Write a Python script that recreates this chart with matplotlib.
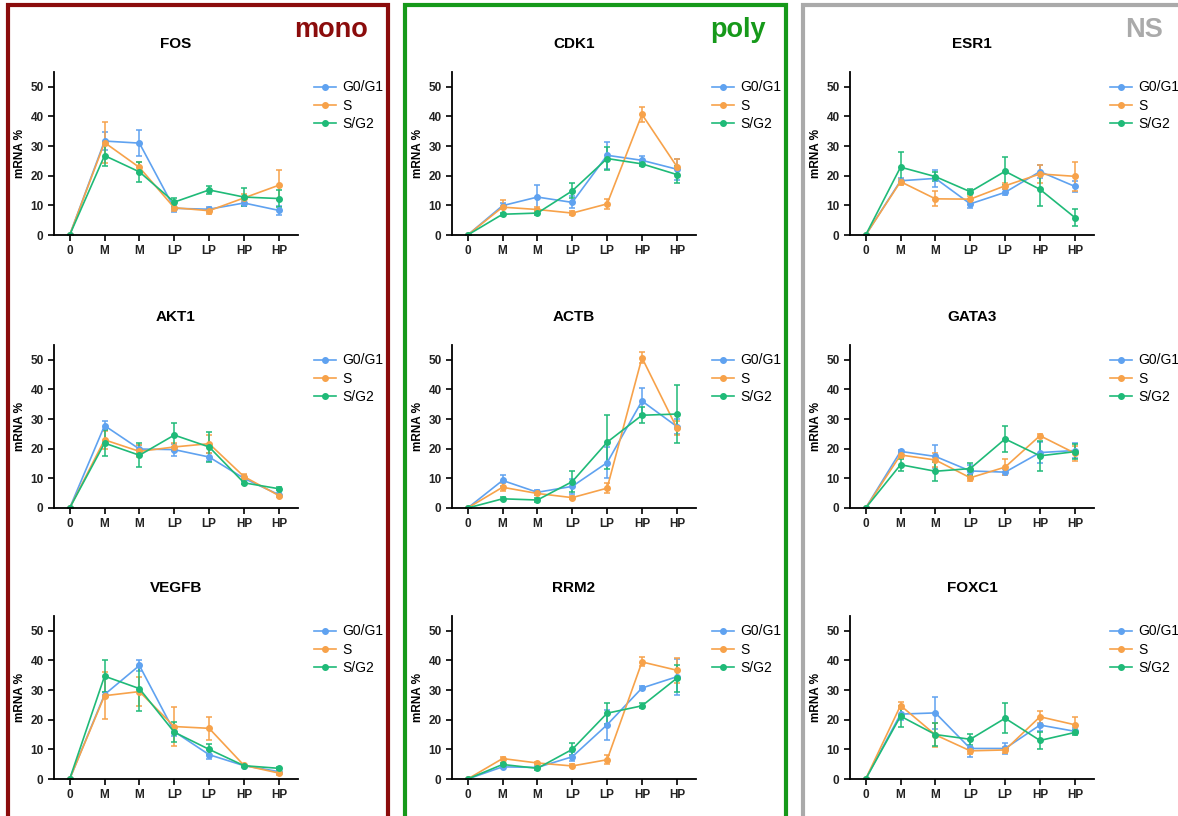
import numpy as np
import matplotlib
matplotlib.use("Agg")
import matplotlib.pyplot as plt
from matplotlib.patches import Rectangle
from matplotlib.lines import Line2D

plt.rcParams['font.family'] = ['Liberation Sans', 'DejaVu Sans']

# x categories
categories = ["0", "M", "M", "LP", "LP", "HP", "HP"]
series = ["G0/G1", "S", "S/G2"]
colors = ['#5fa2f0', '#f7a24a', '#1fba78']

# mean values per gene: G0/G1, S, S/G2
fos_mean = [[0, 31.7, 31.0, 9.0, 8.7, 10.8, 8.3],
            [0, 31.2, 22.8, 9.2, 8.2, 12.5, 16.8],
            [0, 26.8, 21.3, 11.1, 15.2, 12.8, 12.3]]
fos_err = [[0, 3, 4.5, 1.2, 0.8, 1, 1.5],
           [0, 7, 2, 1, 1, 1.5, 5],
           [0, 3.5, 3.5, 1.5, 1.2, 3, 3]]

akt1_mean = [[0, 27.8, 19.9, 19.7, 17.2, 10.0, 4.5],
             [0, 23.0, 19.1, 20.6, 21.7, 10.6, 4.2],
             [0, 21.9, 17.8, 24.6, 20.6, 8.5, 6.5]]
akt1_err = [[0, 1.5, 1.5, 2, 1.5, 1, 0.5],
            [0, 3, 2, 1.5, 3, 1, 0.5],
            [0, 4.5, 4, 4, 5, 0.5, 0.5]]

vegfb_mean = [[0, 28.5, 38.3, 16.0, 8.2, 4.5, 2.5],
              [0, 28.1, 29.5, 17.7, 17.1, 4.6, 2.0],
              [0, 34.7, 30.5, 15.8, 10.0, 4.5, 3.6]]
vegfb_err = [[0, 1, 2, 1.5, 1.5, 0.5, 0.5],
             [0, 8, 5, 6.5, 3.8, 0.5, 0.5],
             [0, 5.3, 7.5, 3.3, 1.8, 0.5, 0.5]]

cdk1_mean = [[0, 9.9, 12.8, 11.0, 26.9, 25.2, 22.2],
             [0, 9.4, 8.6, 7.4, 10.5, 40.7, 23.1],
             [0, 7.0, 7.4, 14.9, 25.8, 24.0, 20.4]]
cdk1_err = [[0, 1, 4, 2, 4.5, 1.5, 3.5],
            [0, 2.5, 1, 0.8, 1.8, 2.5, 2.5],
            [0, 0.5, 0.8, 2.5, 4, 0.8, 3]]

actb_mean = [[0, 9.3, 5.3, 7.3, 15.3, 36.1, 27.5],
             [0, 7.0, 4.9, 3.5, 6.7, 50.7, 27.0],
             [0, 3.1, 2.7, 8.9, 22.2, 31.3, 31.7]]
actb_err = [[0, 1.8, 0.8, 2.5, 5.3, 4.5, 2.5],
            [0, 1.3, 0.5, 0.5, 1.8, 1.8, 2.5],
            [0, 0.5, 0.8, 3.5, 9.2, 2.7, 9.7]]

rrm2_mean = [[0, 4.1, 3.9, 7.5, 18.3, 30.7, 34.5],
             [0, 6.9, 5.4, 4.4, 6.5, 39.5, 36.7],
             [0, 4.9, 3.6, 10.0, 22.2, 24.7, 34.0]]
rrm2_err = [[0, 0.5, 0.5, 1.5, 5, 0.8, 6],
            [0, 0.5, 0.5, 0.5, 1.5, 1.5, 4.2],
            [0, 0.5, 0.5, 2, 3.5, 0.8, 4.5]]

esr1_mean = [[0, 18.3, 19.1, 10.5, 14.4, 21.4, 16.4],
             [0, 18.0, 12.2, 12.1, 16.6, 20.6, 19.8],
             [0, 22.9, 19.7, 14.6, 21.5, 15.4, 5.9]]
esr1_err = [[0, 1, 3, 1.5, 1, 2.3, 1.8],
            [0, 1, 2.5, 1, 1, 3, 5],
            [0, 5, 1.5, 0.8, 4.7, 5.5, 3]]

gata3_mean = [[0, 19.1, 17.4, 12.5, 12.1, 18.7, 19.4],
              [0, 17.9, 16.2, 10.2, 13.8, 24.4, 18.5],
              [0, 14.6, 12.4, 13.3, 23.3, 17.6, 19.0]]
gata3_err = [[0, 0.5, 4, 2, 1, 3.5, 2.5],
             [0, 1, 2.5, 1, 2.8, 0.5, 2.5],
             [0, 2, 3.2, 2, 4.3, 5, 2.5]]

foxc1_mean = [[0, 21.9, 22.3, 10.3, 10.3, 18.2, 16.1],
              [0, 24.8, 14.9, 9.5, 9.8, 21.0, 18.3],
              [0, 21.2, 15.0, 13.4, 20.5, 13.0, 15.7]]
foxc1_err = [[0, 2, 5.5, 3, 2, 2, 1],
             [0, 1.2, 4, 1, 1, 2, 2.5],
             [0, 3.5, 4, 1.8, 5, 3, 1]]

# layout: columns mono / poly / NS, rows of genes
panels = [
    [("FOS", fos_mean, fos_err), ("AKT1", akt1_mean, akt1_err), ("VEGFB", vegfb_mean, vegfb_err)],
    [("CDK1", cdk1_mean, cdk1_err), ("ACTB", actb_mean, actb_err), ("RRM2", rrm2_mean, rrm2_err)],
    [("ESR1", esr1_mean, esr1_err), ("GATA3", gata3_mean, gata3_err), ("FOXC1", foxc1_mean, foxc1_err)],
]
group_names = ["mono", "poly", "NS"]
group_colors = ['#8b0c0c', '#16991a', '#aaaaaa']

W, H = 1178, 816
fig = plt.figure(figsize=(W / 100, H / 100), dpi=100)

col_left = [54, 452, 850]
col_width = 244
row_bottom = [235, 508, 779]
row_height = 163
box_left = [8, 405, 803]
box_right = [388, 786, 1190]
label_right = [368, 766, 1163]

x = np.arange(len(categories))
handles = [Line2D([0], [0], color=colors[s], marker='o', markersize=4, linewidth=1.2)
           for s in range(3)]

for c in range(3):
    # group frame
    rect = Rectangle((box_left[c] / W, -0.05), (box_right[c] - box_left[c]) / W,
                     (H - 5) / H + 0.05, transform=fig.transFigure, fill=False,
                     edgecolor=group_colors[c], linewidth=3)
    fig.patches.append(rect)
    fig.text(label_right[c] / W, 1 - 30 / H, group_names[c],
             ha='right', va='center', fontsize=19.5, fontweight='bold', color=group_colors[c])

    for r in range(3):
        name, means, errs = panels[c][r]
        ax = fig.add_axes([col_left[c] / W, 1 - row_bottom[r] / H, col_width / W, row_height / H])
        for s in range(3):
            ax.errorbar(x, means[s], yerr=errs[s], color=colors[s], marker='o', markersize=4,
                        linewidth=1.2, elinewidth=1.1, capsize=2.5, capthick=1.1)
        ax.set_xlim(-0.45, 6.55)
        ax.set_ylim(0, 55)
        ax.set_yticks([0, 10, 20, 30, 40, 50])
        ax.set_xticks(x)
        ax.set_xticklabels(categories)
        for lab in ax.get_xticklabels() + ax.get_yticklabels():
            lab.set_fontweight('bold')
            lab.set_fontsize(8.5)
            lab.set_color('#222222')
        ax.spines['top'].set_visible(False)
        ax.spines['right'].set_visible(False)
        ax.spines['left'].set_linewidth(1.3)
        ax.spines['bottom'].set_linewidth(1.3)
        ax.tick_params(width=1.2, length=4)
        ax.set_ylabel("mRNA %", fontsize=8.5, fontweight='bold', labelpad=3)
        ax.set_title(name, fontsize=11, fontweight='bold', pad=17)
        ax.legend(handles, series, loc='upper left', bbox_to_anchor=(1.015, 1.025), frameon=False,
                  fontsize=10, handlelength=1.6, handletextpad=0.45, labelspacing=0.3)

fig.savefig("out.png", dpi=100)
